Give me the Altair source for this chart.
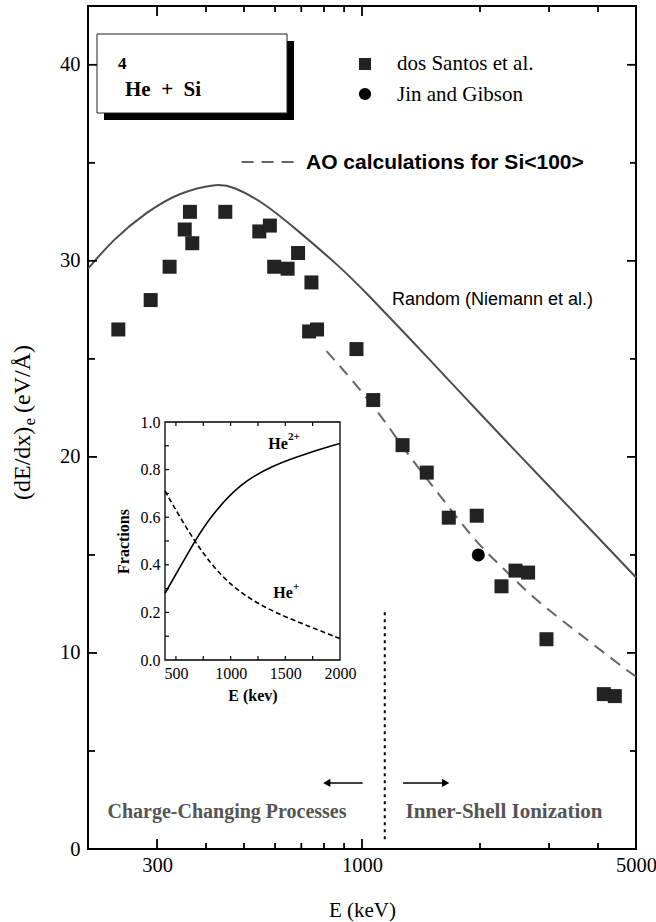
import altair as alt
import pandas as pd

# ---------------- data ----------------
santos_E = [239, 289, 323, 353, 364, 369, 448, 547, 582, 597, 646, 687, 743, 733, 768,
            968, 1068, 1269, 1463, 1665, 1962, 2269, 2464, 2653, 2955, 4139, 4415]
santos_S = [26.5, 28.0, 29.7, 31.6, 32.5, 30.9, 32.5, 31.5, 31.8, 29.7, 29.6, 30.4, 28.9, 26.4, 26.5,
            25.5, 22.9, 20.6, 19.2, 16.9, 17.0, 13.4, 14.2, 14.1, 10.7, 7.9, 7.8]
jin_E = [1980]
jin_S = [15.0]
random_E = [200, 232, 282, 343, 425, 469, 559, 681, 878, 1000, 1500, 2000, 3000, 4000, 5000]
random_S = [29.6, 31.1, 32.5, 33.5, 33.95, 33.8, 33.0, 31.6, 29.7, 28.6, 24.9, 22.2, 18.5, 15.9, 13.85]
ao_E = [812, 1068, 1299, 1600, 1959, 2300, 2732, 3418, 4820, 5000]
ao_S = [25.4, 22.7, 20.2, 17.9, 15.6, 14.3, 12.8, 11.3, 9.0, 8.8]
he2_E = [400, 537, 674, 811, 1086, 1390, 1695, 2000]
he2_F = [0.28, 0.39, 0.50, 0.60, 0.742, 0.819, 0.868, 0.91]
he1_E = [400, 537, 674, 811, 964, 1177, 1421, 1725, 2000]
he1_F = [0.71, 0.60, 0.497, 0.41, 0.33, 0.255, 0.196, 0.14, 0.09]

# annotation anchors (data coordinates)
divider_E = [1143]
divider_S = [0.5, 12.2]
arrow_left_E = [813, 1004]
arrow_right_E = [1273, 1635]
arrow_S = 3.37

# tick labels / tick positions
x_labels = [300, 1000, 5000]
y_labels = [0, 10, 20, 30, 40]
x_major = [300, 1000]
x_minor = [400, 500, 600, 700, 800, 900, 2000, 3000, 4000]
y_major = [10, 20, 30, 40]
y_minor = [5, 15, 25, 35]
in_x_labels = [500, 1000, 1500, 2000]
in_y_labels = [0.0, 0.2, 0.4, 0.6, 0.8, 1.0]
in_x_ticks = [500, 750, 1000, 1250, 1500, 1750]
in_y_ticks = [0.1, 0.2, 0.3, 0.4, 0.5, 0.6, 0.7, 0.8, 0.9]

# ---------------- layout ----------------
W, H = 548, 843
SERIF = "Liberation Serif"
SANS = "Liberation Sans"

xs_main = alt.Scale(type="log", domain=[200, 5000], nice=False)
ys_main = alt.Scale(domain=[0, 43], nice=False, zero=False)
ax_main_x = alt.Axis(values=x_labels, format="d", title="E (keV)", ticks=False, tickSize=0,
                     domain=False, grid=False, labelFont=SERIF, labelFontSize=20.5,
                     labelPadding=6, labelColor="black", labelFlush=False,
                     titleFont=SERIF, titleFontSize=21, titleFontWeight="normal",
                     titlePadding=24, titleColor="black")
ax_main_y = alt.Axis(values=y_labels, format="d", title=None, ticks=False, tickSize=0,
                     domain=False, grid=False, labelFont=SERIF, labelFontSize=20.5,
                     labelPadding=8, labelColor="black")

xs_in = alt.Scale(domain=[400, 2000], range=[77, 252], nice=False, zero=False)
ys_in = alt.Scale(domain=[0, 1], range=[654, 416], nice=False, zero=False)
ax_in_x = alt.Axis(orient="bottom", offset=-189, values=in_x_labels, format="d",
                   ticks=False, tickSize=0, domain=False, grid=False,
                   labelFont=SERIF, labelFontSize=16, labelPadding=5, labelFlush=False,
                   labelColor="black", title="E (kev)", titleFont=SERIF, titleFontSize=16,
                   titleFontWeight="bold", titlePadding=6, titleColor="black")
ax_in_y = alt.Axis(orient="left", offset=-77, values=in_y_labels, format=".1f",
                   ticks=False, tickSize=0, domain=False, grid=False,
                   labelFont=SERIF, labelFontSize=16, labelPadding=5, labelColor="black",
                   title="Fractions", titleFont=SERIF, titleFontSize=16,
                   titleFontWeight="bold", titlePadding=9, titleColor="black")


def XM(f):
    return alt.X(f"{f}:Q", scale=xs_main, axis=ax_main_x)


def YM(f):
    return alt.Y(f"{f}:Q", scale=ys_main, axis=ax_main_y)


def XI(f):
    return alt.X(f"{f}:Q", scale=xs_in, axis=ax_in_x)


def YI(f):
    return alt.Y(f"{f}:Q", scale=ys_in, axis=ax_in_y)


one = pd.DataFrame({"k": [0]})


def label(text, x, y, size, font=SERIF, weight="normal", align="left",
          color="black", angle=None):
    kw = dict(font=font, fontSize=size, fontWeight=weight, align=align,
              baseline="middle", color=color)
    if angle is not None:
        kw["angle"] = angle
    return alt.Chart(one).mark_text(**kw).encode(
        x=alt.value(x), y=alt.value(y), text=alt.value(text))


def box(x1, x2, y1, y2, **kw):
    return alt.Chart(one).mark_rect(**kw).encode(
        x=alt.value(x1), x2=alt.value(x2), y=alt.value(y1), y2=alt.value(y2))


# ---------------- main panel ----------------
df_santos = pd.DataFrame({"E": santos_E, "S": santos_S})
df_jin = pd.DataFrame({"E": jin_E, "S": jin_S})
df_rand = pd.DataFrame({"E": random_E, "S": random_S})
df_ao = pd.DataFrame({"E": ao_E, "S": ao_S})

TICK = dict(color="black", strokeWidth=1.8)


def xticks(vals, y0, y1, XF):
    return alt.Chart(pd.DataFrame({"t": vals})).mark_rule(**TICK).encode(
        x=XF("t"), y=alt.value(y0), y2=alt.value(y1))


def yticks(vals, x0, x1, YF):
    return alt.Chart(pd.DataFrame({"t": vals})).mark_rule(**TICK).encode(
        y=YF("t"), x=alt.value(x0), x2=alt.value(x1))


rand_line = alt.Chart(df_rand).mark_line(color="#4d4d4d", strokeWidth=2,
                                         interpolate="basis").encode(x=XM("E"), y=YM("S"))
ao_line = alt.Chart(df_ao).mark_line(color="#666666", strokeWidth=2, strokeDash=[12, 8],
                                     interpolate="basis").encode(x=XM("E"), y=YM("S"))
squares = alt.Chart(df_santos).mark_point(shape="square", filled=True, size=196,
                                          color="#222222", opacity=1).encode(x=XM("E"), y=YM("S"))
circle = alt.Chart(df_jin).mark_point(shape="circle", filled=True, size=170,
                                      color="black", opacity=1).encode(x=XM("E"), y=YM("S"))

divider = alt.Chart(pd.DataFrame({"E": divider_E, "y1": [divider_S[0]], "y2": [divider_S[1]]})
                    ).mark_rule(color="black", strokeWidth=2, strokeDash=[3, 4]).encode(
    x=XM("E"), y=YM("y1"), y2=alt.Y2("y2"))

arrows = alt.Chart(pd.DataFrame({"E1": [arrow_left_E[0], arrow_right_E[0]],
                                 "E2": [arrow_left_E[1], arrow_right_E[1]],
                                 "S": [arrow_S, arrow_S]})).mark_rule(
    color="black", strokeWidth=1.5).encode(x=XM("E1"), x2=alt.X2("E2"), y=YM("S"))
head_l = alt.Chart(pd.DataFrame({"E": [arrow_left_E[0]], "S": [arrow_S]})).mark_point(
    shape="triangle-left", filled=True, size=70, color="black", opacity=1).encode(
    x=XM("E"), y=YM("S"))
head_r = alt.Chart(pd.DataFrame({"E": [arrow_right_E[1]], "S": [arrow_S]})).mark_point(
    shape="triangle-right", filled=True, size=70, color="black", opacity=1).encode(
    x=XM("E"), y=YM("S"))

main_ticks = [
    xticks(x_major, H, H - 10, XM), xticks(x_minor, H, H - 6, XM),
    xticks(x_major, 0, 10, XM), xticks(x_minor, 0, 6, XM),
    yticks(y_major, 0, 9, YM), yticks(y_minor, 0, 7, YM),
    yticks(y_major, W, W - 9, YM), yticks(y_minor, W, W - 6, YM),
]

decor = [
    box(16, 206, 35, 114, color="black"),
    box(9, 199, 28, 107, fill="white", stroke="#222222", strokeWidth=1),
    label("4", 30, 58.3, 17, weight="bold"),
    label("He\u00a0 +\u00a0 Si", 37, 84.3, 21, weight="bold"),
    alt.Chart(one).mark_point(shape="square", filled=True, size=144, color="#222222",
                              opacity=1).encode(x=alt.value(277), y=alt.value(58)),
    alt.Chart(one).mark_point(shape="circle", filled=True, size=150, color="black",
                              opacity=1).encode(x=alt.value(277), y=alt.value(88)),
    label("dos Santos et al.", 309, 58, 21),
    label("Jin and Gibson", 309, 89, 21),
    alt.Chart(one).mark_rule(color="#666666", strokeWidth=2, strokeDash=[12, 8]).encode(
        x=alt.value(153.6), x2=alt.value(208), y=alt.value(156)),
    label("AO calculations for Si<100>", 218, 157, 21, font=SANS, weight="bold"),
    label("Random (Niemann et al.)", 304, 294, 18, font=SANS),
    label("Charge-Changing Processes", 139, 806, 20, weight="bold", align="center",
          color="#555555"),
    label("Inner-Shell Ionization", 416, 806, 21, weight="bold", align="center",
          color="#555555"),
    # y-axis title: (dE/dx)_e (eV/Å)
    label("(dE/dx)", -65, 420.7, 24, align="right", angle=270),
    label("e", -58, 419.5, 17, align="left", angle=270),
    label("(eV/Å)", -65, 407, 24, align="left", angle=270),
]

main = alt.layer(
    rand_line, ao_line, divider, arrows, head_l, head_r, squares, circle,
    *main_ticks, *decor,
)

# ---------------- inset panel ----------------
df_he2 = pd.DataFrame({"E": he2_E, "F": he2_F})
df_he1 = pd.DataFrame({"E": he1_E, "F": he1_F})
frame = alt.Chart(pd.DataFrame({"x1": [400], "x2": [2000], "y1": [0.0], "y2": [1.0]})).mark_rect(
    fill="white", stroke="black", strokeWidth=1.3).encode(
    x=XI("x1"), x2=alt.X2("x2"), y=YI("y1"), y2=alt.Y2("y2"))
he2_line = alt.Chart(df_he2).mark_line(color="black", strokeWidth=1.6,
                                       interpolate="basis").encode(x=XI("E"), y=YI("F"))
he1_line = alt.Chart(df_he1).mark_line(color="black", strokeWidth=1.6, strokeDash=[5, 3],
                                       interpolate="basis").encode(x=XI("E"), y=YI("F"))
in_ticks = [
    alt.Chart(pd.DataFrame({"t": in_x_ticks})).mark_rule(color="black", strokeWidth=1.2).encode(
        x=XI("t"), y=alt.value(654), y2=alt.value(650)),
    alt.Chart(pd.DataFrame({"t": in_x_ticks})).mark_rule(color="black", strokeWidth=1.2).encode(
        x=XI("t"), y=alt.value(416), y2=alt.value(420)),
    alt.Chart(pd.DataFrame({"t": in_y_ticks})).mark_rule(color="black", strokeWidth=1.2).encode(
        y=YI("t"), x=alt.value(77), x2=alt.value(81)),
]
in_labels = [
    label("He", 180.3, 438, 16, weight="bold"),
    label("2+", 199.9, 431, 11, weight="bold"),
    label("He", 185.3, 587, 16, weight="bold"),
    label("+", 205, 581, 11, weight="bold"),
]
inset = alt.layer(frame, he2_line, he1_line, *in_ticks, *in_labels)

chart = (
    alt.layer(main, inset)
    .resolve_scale(x="independent", y="independent")
    .properties(width=W, height=H, autosize=alt.AutoSizeParams(type="none"),
                padding={"left": 88, "top": 6, "right": 20, "bottom": 73},
                background="white")
    .configure_view(stroke="black", strokeWidth=2)
)

chart.save("out.html", embed_options={"renderer": "svg", "actions": False})
